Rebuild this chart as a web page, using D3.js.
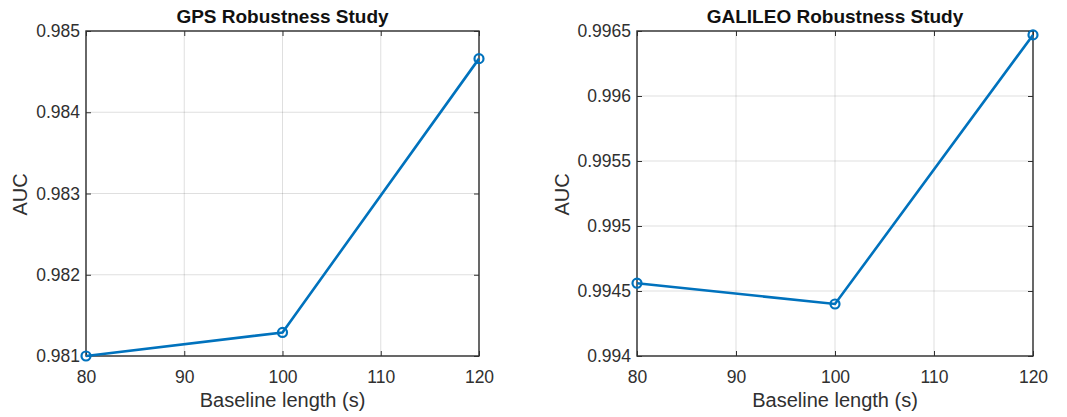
<!DOCTYPE html>
<html>
<head>
<meta charset="utf-8">
<script src="https://cdn.jsdelivr.net/npm/d3@7"></script>
<style>
  html, body { margin: 0; padding: 0; background: #fff; }
  svg { display: block; font-family: "Liberation Sans", Arial, Helvetica, sans-serif; }
</style>
</head>
<body>
<svg id="chart" width="1067" height="417"></svg>
<script>
// Baseline lengths (s) shared by both studies
const baselineLengths = [80, 100, 120];

// AUC per baseline length
const gpsAuc = [0.98100, 0.98129, 0.98466];
const galileoAuc = [0.99456, 0.99440, 0.99647];

// Axis ticks
const xTicks = [80, 90, 100, 110, 120];
const gpsYTicks = [0.981, 0.982, 0.983, 0.984, 0.985];
const galileoYTicks = [0.994, 0.9945, 0.995, 0.9955, 0.996, 0.9965];

const titles = ["GPS Robustness Study", "GALILEO Robustness Study"];

const panels = [
  { title: titles[0], values: gpsAuc, yDomain: [0.981, 0.985], yTicks: gpsYTicks,
    left: 86, right: 479, yLabelX: 20 },
  { title: titles[1], values: galileoAuc, yDomain: [0.994, 0.9965], yTicks: galileoYTicks,
    left: 637, right: 1033, yLabelX: 562 }
];

const plotTop = 31, plotBottom = 356;
const axisColor = "#303030";
const lineColor = "#0072BD";
const svg = d3.select("#chart");

panels.forEach(p => {
  const x = d3.scaleLinear().domain([80, 120]).range([p.left, p.right]);
  const y = d3.scaleLinear().domain(p.yDomain).range([plotBottom, plotTop]);
  const g = svg.append("g");
  const w = p.right - p.left, h = plotBottom - plotTop;

  // grid
  g.append("g").selectAll("line").data(xTicks).join("line")
    .attr("x1", d => x(d)).attr("x2", d => x(d))
    .attr("y1", plotTop).attr("y2", plotBottom)
    .attr("stroke", "#262626").attr("stroke-opacity", 0.15).attr("stroke-width", 1);
  g.append("g").selectAll("line").data(p.yTicks).join("line")
    .attr("y1", d => y(d)).attr("y2", d => y(d))
    .attr("x1", p.left).attr("x2", p.right)
    .attr("stroke", "#262626").attr("stroke-opacity", 0.15).attr("stroke-width", 1);

  // axes (inward ticks on all four sides)
  const fmt = d => String(+d.toPrecision(6));
  const styleAxis = sel => {
    sel.select(".domain").remove();
    sel.selectAll(".tick line").attr("stroke", axisColor).attr("stroke-width", 1);
    sel.selectAll(".tick text").attr("fill", axisColor).attr("font-size", 17.5)
      .attr("font-family", "Liberation Sans, Arial, sans-serif");
  };
  g.append("g").attr("transform", `translate(0,${plotBottom})`)
    .call(d3.axisBottom(x).tickValues(xTicks).tickSizeInner(-5).tickSizeOuter(0).tickPadding(15).tickFormat(d3.format("d")))
    .call(styleAxis);
  g.append("g").attr("transform", `translate(0,${plotTop})`)
    .call(d3.axisTop(x).tickValues(xTicks).tickSizeInner(-5).tickSizeOuter(0).tickFormat(""))
    .call(styleAxis);
  g.append("g").attr("transform", `translate(${p.left},0)`)
    .call(d3.axisLeft(y).tickValues(p.yTicks).tickSizeInner(-5).tickSizeOuter(0).tickPadding(6).tickFormat(fmt))
    .call(styleAxis);
  g.append("g").attr("transform", `translate(${p.right},0)`)
    .call(d3.axisRight(y).tickValues(p.yTicks).tickSizeInner(-5).tickSizeOuter(0).tickFormat(""))
    .call(styleAxis);

  // box
  g.append("rect").attr("x", p.left).attr("y", plotTop).attr("width", w).attr("height", h)
    .attr("fill", "none").attr("stroke", axisColor).attr("stroke-width", 1.4);

  // series
  const pts = baselineLengths.map((b, i) => [b, p.values[i]]);
  g.append("path").datum(pts)
    .attr("d", d3.line().x(d => x(d[0])).y(d => y(d[1])))
    .attr("fill", "none").attr("stroke", lineColor).attr("stroke-width", 2.6);
  g.append("g").selectAll("circle").data(pts).join("circle")
    .attr("cx", d => x(d[0])).attr("cy", d => y(d[1])).attr("r", 4.5)
    .attr("fill", "none").attr("stroke", lineColor).attr("stroke-width", 2.2);

  // labels
  g.append("text").attr("x", (p.left + p.right) / 2).attr("y", 23)
    .attr("text-anchor", "middle").attr("font-weight", "bold").attr("font-size", 19)
    .attr("fill", "#111").text(p.title);
  g.append("text").attr("x", (p.left + p.right) / 2).attr("y", 407)
    .attr("text-anchor", "middle").attr("font-size", 20).attr("fill", axisColor)
    .text("Baseline length (s)");
  g.append("text").attr("transform", `translate(${p.yLabelX},${(plotTop + plotBottom) / 2 + 1}) rotate(-90)`)
    .attr("text-anchor", "middle").attr("dy", "0.35em").attr("font-size", 20).attr("fill", axisColor)
    .text("AUC");
});
</script>
</body>
</html>
